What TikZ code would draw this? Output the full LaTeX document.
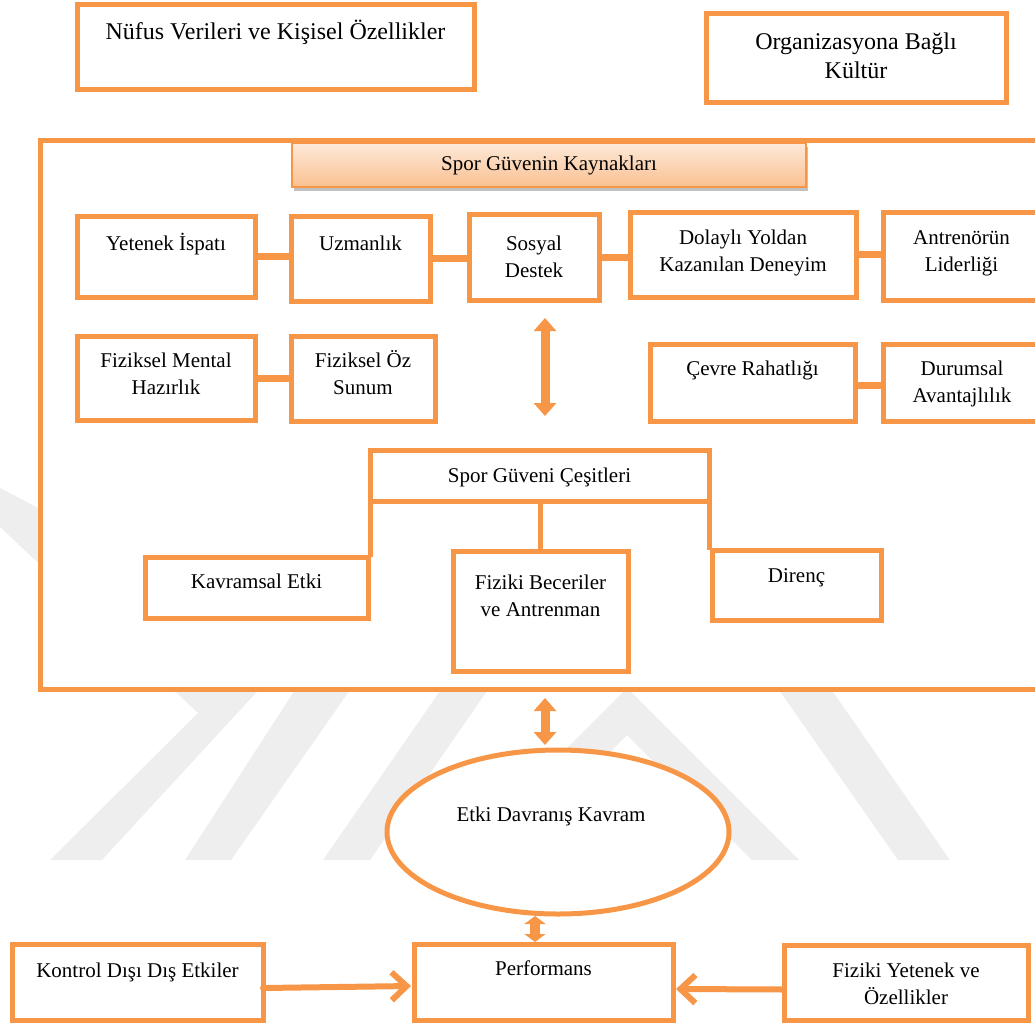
\documentclass[tikz,border=0pt]{standalone}
\usepackage{fontspec}
\setmainfont{Liberation Serif}
\usetikzlibrary{arrows.meta,shapes.geometric,shadows,calc}

\definecolor{accent}{RGB}{247,150,70}
\definecolor{hdrtop}{HTML}{FDE9D9}
\definecolor{hdrbot}{HTML}{FAC090}
\definecolor{wmgray}{HTML}{EEEEEE}

% box text: width, height, first-baseline offset, lines
\newcommand\boxtxt[4]{\parbox[c][#2pt][t]{#1pt}{\centering\rule{0pt}{#3pt}#4\par}}

\begin{document}
\begin{tikzpicture}[x=1pt,y=-1pt,
  box/.style={draw=accent, line width=5pt, fill=white, inner sep=0pt, outer sep=0pt,
    anchor=north west, font=\fontsize{21}{27}\selectfont},
  bigbox/.style={box, font=\fontsize{24}{28}\selectfont},
  hdr/.style={draw=accent, line width=2pt, top color=hdrtop, bottom color=hdrbot,
    inner sep=0pt, anchor=north west, font=\fontsize{21}{27}\selectfont,
    drop shadow={shadow xshift=1.5pt, shadow yshift=-4pt, opacity=.35, fill=black!70}},
  link/.style={draw=accent, line width=7pt},
  twoway/.style={draw=accent, line width=9pt,
    {Triangle[width=22pt,length=13pt]}-{Triangle[width=22pt,length=13pt]}},
  shortway/.style={draw=accent, line width=10pt,
    {Triangle[width=21pt,length=8pt]}-{Triangle[width=21pt,length=8pt]}},
  barb/.style={draw=accent, line width=6pt, line cap=round, line join=round,
    -{Straight Barb[length=15pt,width=28pt]}}
]
\useasboundingbox (0,0) rectangle (1035,1025);
\clip (0,0) rectangle (1035,1025);

% faint background emblem
\fill[wmgray] (0,488) -- (300,645) -- (102,860) -- (50,860) -- (198,713) -- (0,527) -- cycle;
\fill[wmgray] (353,600) -- (413,600) -- (231,860) -- (185,860) -- cycle;
\fill[wmgray] (503,600) -- (550,600) -- (370,860) -- (323,860) -- cycle;
\fill[wmgray] (455,860) -- (627,688) -- (799,860) -- (752,860) -- (627,735) -- (502,860) -- cycle;
\fill[wmgray] (716,600) -- (769,600) -- (950,860) -- (898,860) -- cycle;

% top boxes
\node[bigbox] (nufus) at (77,5) {\boxtxt{397}{84}{35}{Nüfus Verileri ve Kişisel Özellikler}};
\node[bigbox] (org) at (706,14) {\boxtxt{300}{88}{36}{Organizasyona Bağlı\\Kültür}};

% outer frame
\node[box, minimum width=1010pt, minimum height=549pt] (frame) at (40,140) {};
\node[hdr] (hdr) at (291,142) {\boxtxt{514}{44}{27}{Spor Güvenin Kaynakları}};

% sources, first row
\node[box] (yetenek) at (77,216) {\boxtxt{178}{81}{34}{Yetenek İspatı}};
\node[box] (uzman) at (291,216) {\boxtxt{139}{85}{34}{Uzmanlık}};
\node[box] (sosyal) at (469,214) {\boxtxt{130}{86}{36}{Sosyal\\Destek}};
\node[box] (dolayli) at (630,212) {\boxtxt{226}{85}{32}{Dolaylı Yoldan\\Kazanılan Deneyim}};
\node[box] (antren) at (883,212) {\boxtxt{157}{88}{32}{Antrenörün\\Liderliği}};

% sources, second row
\node[box] (fizmental) at (77,336) {\boxtxt{178}{84}{31}{Fiziksel Mental\\Hazırlık}};
\node[box] (fizoz) at (291,336) {\boxtxt{144}{85}{31}{Fiziksel Öz\\Sunum}};
\node[box] (cevre) at (650,344) {\boxtxt{205}{77}{31}{Çevre Rahatlığı}};
\node[box] (durum) at (883,344) {\boxtxt{158}{77}{31}{Durumsal\\Avantajlılık}};

\draw[link] (yetenek.east) -- (uzman.west |- yetenek.east);
\draw[link] (uzman.east) -- (sosyal.west |- uzman.east);
\draw[link] (sosyal.east) -- (dolayli.west |- sosyal.east);
\draw[link] (dolayli.east) -- (antren.west |- dolayli.east);
\draw[link] (fizmental.east) -- (fizoz.west |- fizmental.east);
\draw[link] ($(cevre.east)+(0,3)$) -- ($(durum.west |- cevre.east)+(0,3)$);

% types
\node[box] (cesit) at (370,450) {\boxtxt{339}{51}{32}{Spor Güveni Çeşitleri}};
\node[box] (kavram) at (145,557) {\boxtxt{223}{61}{31}{Kavramsal Etki}};
\node[box] (fiziki) at (453,551) {\boxtxt{175}{120}{38}{Fiziki Beceriler\\ve Antrenman}};
\node[box] (direnc) at (712,550) {\boxtxt{169}{70}{32}{Direnç}};

\draw[draw=accent, line width=5pt] (cesit.south west) -- (cesit.south west |- kavram.north);
\draw[draw=accent, line width=5pt] ($(cesit.south)+(1,0)$) -- ($(cesit.south |- fiziki.north)+(1,0)$);
\draw[draw=accent, line width=5pt] (cesit.south east) -- (cesit.south east |- direnc.north);

% arrow ends
\coordinate (a1s) at (545,318);
\coordinate (a1e) at (545,416);
\coordinate (a2s) at (545,698);
\coordinate (a2e) at (545,745);
\coordinate (a3s) at (535,916);
\coordinate (a3e) at (535,942);

\draw[twoway] (a1s) -- (a1e);

% outcome chain
\node[draw=accent, line width=5pt, fill=white, ellipse, inner sep=0pt,
  minimum width=342pt, minimum height=164pt,
  label={[font=\fontsize{21}{27}\selectfont, xshift=-7pt, yshift=16pt]center:Etki Davranış Kavram}]
  (ell) at (558,832) {};
\draw[twoway] (a2s) -- (a2e);

\node[box] (perf) at (414,944) {\boxtxt{259}{76}{31}{Performans}};
\node[box] (kontrol) at (12,944) {\boxtxt{251}{76}{33}{Kontrol Dışı Dış Etkiler}};
\node[box] (fizyet) at (784,945) {\boxtxt{244}{75}{32}{Fiziki Yetenek ve\\Özellikler}};

\draw[shortway] (a3s) -- (a3e);
\draw[barb] ($(kontrol.east)+(0,6)$) -- ($(perf.west)+(-3,4)$);
\draw[barb] ($(fizyet.west)+(0,7)$) -- ($(perf.east)+(3,7)$);
\end{tikzpicture}
\end{document}
